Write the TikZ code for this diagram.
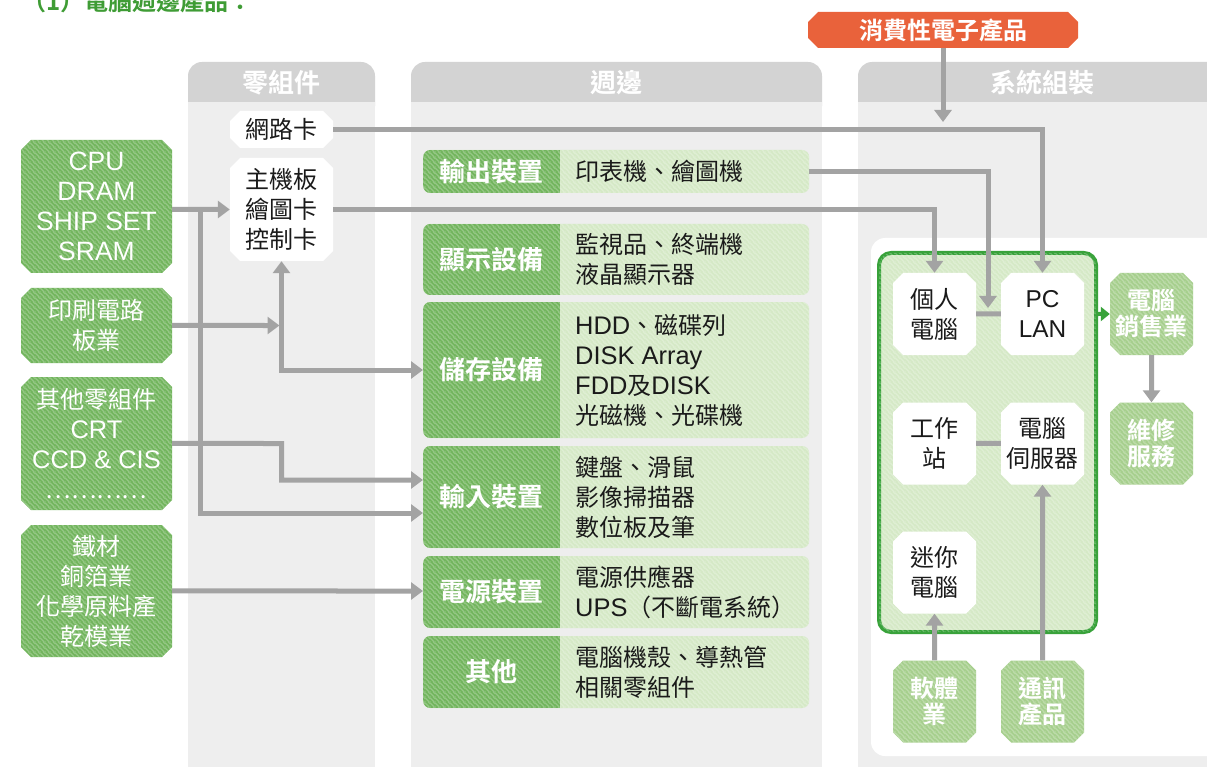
\documentclass[tikz,border=0pt]{standalone}
\usepackage{fontspec}
\setmainfont{Noto Sans CJK TC}[BoldFont={Noto Sans CJK TC Bold}]
\newfontfamily\lat{Liberation Sans}[Scale=1.06]
\usetikzlibrary{arrows.meta}
\usetikzlibrary{patterns}
\usetikzlibrary{shapes.misc}

\definecolor{titlegreen}{HTML}{3F9C35}
\definecolor{consorange}{HTML}{E9623B}
\definecolor{headgray}{HTML}{D3D3D3}
\definecolor{panelgray}{HTML}{EEEEEE}
\definecolor{linegray}{HTML}{A3A3A3}
\definecolor{darkgreen}{HTML}{72B55D}
\definecolor{lightgreen}{HTML}{D5E9C6}
\definecolor{midgreen}{HTML}{A6CF8D}
\definecolor{sysgreen}{HTML}{38A23A}
\definecolor{textblack}{HTML}{1A1A1A}

\pgfdeclarepatternformonly{stripes}{\pgfqpoint{0pt}{0pt}}{\pgfqpoint{5pt}{5pt}}{\pgfqpoint{5pt}{5pt}}{%
  \pgfsetlinewidth{1.4pt}%
  \pgfpathmoveto{\pgfqpoint{0pt}{5pt}}\pgfpathlineto{\pgfqpoint{5pt}{0pt}}%
  \pgfpathmoveto{\pgfqpoint{-1pt}{1pt}}\pgfpathlineto{\pgfqpoint{1pt}{-1pt}}%
  \pgfpathmoveto{\pgfqpoint{4pt}{6pt}}\pgfpathlineto{\pgfqpoint{6pt}{4pt}}%
  \pgfusepath{stroke}}

\tikzset{
  stripefill/.style={postaction={pattern=stripes, pattern color=white, fill opacity=.25}},
  chamf/.style={chamfered rectangle, chamfered rectangle xsep=5pt,
    chamfered rectangle ysep=5pt, inner sep=0pt, align=center},
  srcbox/.style={chamf, fill=darkgreen, stripefill, text=white,
    minimum width=151pt, font=\fontsize{24}{30}\selectfont},
  partbox/.style={chamf, fill=white, text=textblack, minimum width=103pt,
    font=\fontsize{24}{30}\selectfont},
  rowbox/.style={rectangle, rounded corners=7pt, fill=lightgreen, stripefill,
    minimum width=386pt, inner sep=0pt, anchor=west,
    path picture={\fill[darkgreen, sharp corners] (path picture bounding box.south west)
      rectangle ([xshift=137pt]path picture bounding box.north west);}},
  rowlabel/.style={text=white, inner sep=0pt, font=\bfseries\fontsize{26}{30}\selectfont},
  rowitems/.style={anchor=west, align=left, inner sep=0pt, text=textblack,
    font=\fontsize{24}{30}\selectfont},
  headtext/.style={text=white, font=\bfseries\fontsize{26}{30}\selectfont},
  unitbox/.style={chamf, fill=white, text=textblack, minimum width=83pt,
    minimum height=82pt, font=\fontsize{24}{30}\selectfont},
  tradebox/.style={chamf, fill=midgreen, stripefill, text=white, minimum width=83pt,
    minimum height=82pt, font=\bfseries\fontsize{24}{26}\selectfont},
  conn/.style={draw=linegray, line width=5pt},
  arr/.style={-{Triangle[length=12pt,width=17pt]}},
  arrs/.style={{Triangle[length=12pt,width=17pt]}-{Triangle[length=12pt,width=17pt]}},
}

\begin{document}
\begin{tikzpicture}[x=1pt, y=-1pt]
    \useasboundingbox (0,0) rectangle (1207,767);

    \fill[headgray, rounded corners=14pt] (188,62) rectangle (375,120);
    \fill[panelgray] (188,102) rectangle (375,767);
    \fill[headgray, rounded corners=14pt] (411,62) rectangle (822,120);
    \fill[panelgray] (411,102) rectangle (822,767);
    \fill[headgray, rounded corners=14pt] (858,62) rectangle (1240,120);
    \fill[panelgray] (858,102) rectangle (1240,767);
    \fill[white, rounded corners=14pt] (871,238) rectangle (1240,756);

    \node[anchor=west, inner sep=0pt, text=titlegreen,
        font=\bfseries\fontsize{24}{24}\selectfont] (title) at (22,1) {（1）電腦週邊產品：};
    \node[headtext] (parthead) at (281.5,83) {零組件};
    \node[headtext] (perihead) at (616.5,83) {週邊};
    \node[headtext] (syshead) at (1042,83) {系統組裝};
    \node[chamf, fill=consorange, text=white, minimum width=270pt, minimum height=36pt,
        font=\bfseries\fontsize{24}{30}\selectfont] (cons) at (943,30) {消費性電子產品};

    \node[srcbox, minimum height=133pt, font=\lat\fontsize{25}{30}\selectfont]
        (cpu) at (96.5,206.5) {CPU\\DRAM\\SHIP SET\\SRAM};
    \node[srcbox, minimum height=75pt] (pcb) at (96.5,325.5) {印刷電路\\板業};
    \node[srcbox, minimum height=133pt] (other) at (96.5,443.5)
        {其他零組件\\{\lat CRT}\\{\lat CCD \& CIS}\\…………};
    \node[srcbox, minimum height=132pt] (iron) at (96.5,591)
        {鐵材\\銅箔業\\化學原料產\\乾模業};

    \node[partbox, minimum height=37pt] (nic) at (281.5,129.5) {網路卡};
    \node[partbox, minimum height=103pt] (mb) at (281.5,209.5) {主機板\\繪圖卡\\控制卡};

    \node[rowbox, minimum height=43pt] (out) at (423,171.5) {};
    \node[rowlabel] (outlab) at ([xshift=68.5pt]out.west) {輸出裝置};
    \node[rowitems] (outtxt) at ([xshift=152pt]out.west) {印表機、繪圖機};
    \node[rowbox, minimum height=71pt] (disp) at (423,259.5) {};
    \node[rowlabel] (displab) at ([xshift=68.5pt]disp.west) {顯示設備};
    \node[rowitems] (disptxt) at ([xshift=152pt]disp.west) {監視品、終端機\\液晶顯示器};
    \node[rowbox, minimum height=136pt] (stor) at (423,370) {};
    \node[rowlabel] (storlab) at ([xshift=68.5pt]stor.west) {儲存設備};
    \node[rowitems] (stortxt) at ([xshift=152pt]stor.west)
        {{\lat HDD}、磁碟列\\{\lat DISK Array}\\{\lat FDD}及{\lat DISK}\\光磁機、光碟機};
    \node[rowbox, minimum height=102pt] (inp) at (423,497) {};
    \node[rowlabel] (inplab) at ([xshift=68.5pt]inp.west) {輸入裝置};
    \node[rowitems] (inptxt) at ([xshift=152pt]inp.west) {鍵盤、滑鼠\\影像掃描器\\數位板及筆};
    \node[rowbox, minimum height=72pt] (pwr) at (423,592) {};
    \node[rowlabel] (pwrlab) at ([xshift=68.5pt]pwr.west) {電源裝置};
    \node[rowitems] (pwrtxt) at ([xshift=152pt]pwr.west) {電源供應器\\{\lat UPS}（不斷電系統）};
    \node[rowbox, minimum height=72pt] (misc) at (423,672) {};
    \node[rowlabel] (misclab) at ([xshift=68.5pt]misc.west) {其他};
    \node[rowitems] (misctxt) at ([xshift=152pt]misc.west) {電腦機殼、導熱管\\相關零組件};

    \node[draw=sysgreen, line width=4pt, fill=lightgreen, stripefill, rounded corners=12pt,
        minimum width=217pt, minimum height=379pt, inner sep=0pt] (sys) at (987.5,442.5) {};
    \node[unitbox] (pc) at (934.5,314) {個人\\電腦};
    \node[unitbox, font=\lat\fontsize{23}{30}\selectfont] (lan) at (1042.5,314) {PC\\LAN};
    \node[unitbox] (ws) at (934.5,443.5) {工作\\站};
    \node[unitbox] (srv) at (1042.5,443.5) {電腦\\伺服器};
    \node[unitbox] (mini) at (934.5,572.5) {迷你\\電腦};
    \node[tradebox] (soft) at (934.5,701.5) {軟體\\業};
    \node[tradebox] (comm) at (1042.5,701.5) {通訊\\產品};
    \node[tradebox] (sales) at (1151.5,314) {電腦\\銷售業};
    \node[tradebox] (svc) at (1151.5,443.5) {維修\\服務};

    \coordinate (consend) at (943,122);
    \coordinate (pclink) at (988,308);
    \coordinate (cpubus) at (200,209.5);

    \draw[conn, arr] (cons) -- (consend);
    \draw[conn, arr] (nic) -| (lan);
    \draw[conn, arr] (mb) -| (pc);
    \draw[conn, arr] (out) -| (pclink);
    \draw[conn] (pc) -- (lan);
    \draw[conn] (ws) -- (srv);
    \draw[draw=sysgreen, line width=4pt, -{Triangle[length=9pt,width=14pt]}]
        (sys.east |- sales) -- (sales);
    \draw[conn, arr] (sales) -- (svc);
    \draw[conn, arr] (soft) -- (mini);
    \draw[conn, arr] (comm) -- (srv);

    \draw[conn, arr] (cpu.east |- mb) -- (mb);
    \draw[conn, arr] (cpubus) |- ([yshift=-16pt]inp.west);
    \draw[conn, arrs] (mb) |- (stor);
    \draw[conn, arr, shorten >=2pt] (pcb) -- (pcb -| mb);
    \draw[conn, arr] (other) -- (other -| mb) |- ([yshift=17pt]inp.west);
    \draw[conn, arr] (iron) -- (iron -| pwr.west);
\end{tikzpicture}
\end{document}
